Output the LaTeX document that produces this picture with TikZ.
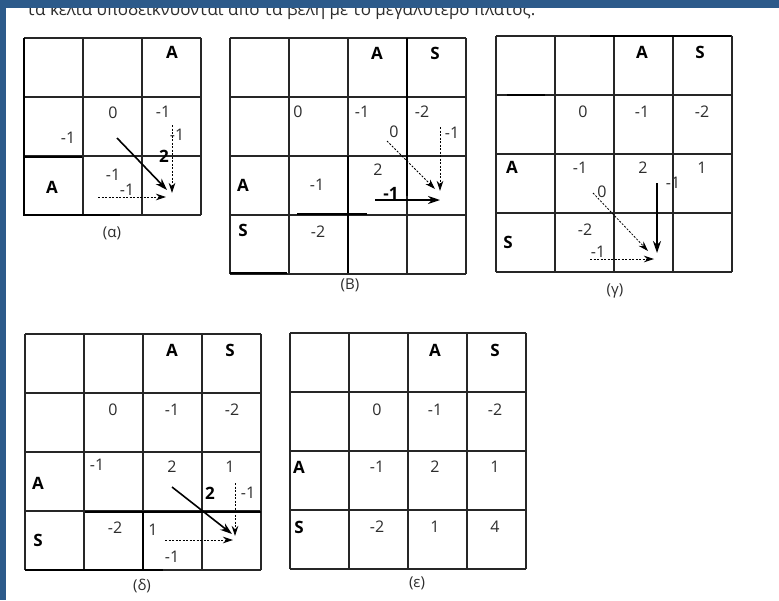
\documentclass[tikz,border=0pt]{standalone}
\usepackage{fontspec}
\setmainfont{Open Sans}
\usetikzlibrary{arrows.meta}
\definecolor{band}{RGB}{44,90,138}
\definecolor{ink}{RGB}{45,45,45}
\tikzset{
  num/.style={font=\fontsize{16}{16}\selectfont, text=ink, inner sep=0pt},
  hdr/.style={font=\fontsize{17}{17}\selectfont\bfseries, inner sep=0pt},
  bnum/.style={font=\fontsize{17}{17}\selectfont\bfseries, inner sep=0pt},
  captxt/.style={font=\fontsize{15}{15}\selectfont, text=ink, inner sep=0pt},
  gridline/.style={line width=1.1pt, black!85},
  heavy/.style={line width=1.8pt, black},
  darr/.style={line width=0.8pt, dash pattern=on 2pt off 1.5pt, -{Stealth[length=10pt,width=6.5pt]}},
  sarr/.style={line width=1.6pt, -{Stealth[length=12pt,width=8pt]}},
}
\newcommand\mygrid[4]{%
  \foreach \i in {0,...,#3}{\draw[gridline] ({#1+59*\i},#2) -- ({#1+59*\i},{#2+59*#4});}%
  \foreach \j in {0,...,#4}{\draw[gridline] (#1,{#2+59*\j}) -- ({#1+59*#3},{#2+59*\j});}%
}
\begin{document}
\begin{tikzpicture}[x=1pt,y=-1pt]
\useasboundingbox (0,0) rectangle (779,600);
\fill[white] (0,0) rectangle (779,600);
% top text (cut off by the band)
\node[anchor=base west, font=\fontsize{17}{17}\selectfont, text=ink, inner sep=0pt] (toptext) at (27,15.5) {τα κελιά υποδεικνύονται από τα βέλη με το μεγαλύτερο πλάτος.};
\fill[band] (0,0) rectangle (779,7.5);
\fill[band] (0,0) rectangle (6,600);

% ---------------- (a)
\mygrid{24}{38}{3}{3}
\draw[heavy] (24,38) -- (24,215) -- (120,215);
\draw[heavy] (24,157) -- (82,157);
\node[hdr] (aA1) at (172,52) {A};
\node[num] (aL1) at (68,138) {-1};
\node[num] (a11) at (113,113) {0};
\node[num] (a12) at (163,112) {-1};
\node[num] (aLv) at (177,135) {-1};
\node[bnum] (a2b) at (164,156) {2};
\node[hdr] (aA2) at (52,187) {A};
\node[num] (a21) at (113,175) {-1};
\node[num] (aLh) at (127,190) {-1};
\coordinate (aD0) at (117,138); \coordinate (aD1) at (167,190);
\coordinate (aV0) at (172,125); \coordinate (aV1) at (172,193);
\coordinate (aH0) at (98,197);  \coordinate (aH1) at (166,197);
\draw[sarr] (aD0) -- (aD1);
\draw[darr] (aV0) -- (aV1);
\draw[darr] (aH0) -- (aH1);
\node[captxt] (capa) at (112,233) {(α)};

% ---------------- (B)
\mygrid{230}{38}{4}{4}
\draw[heavy] (407,38) -- (407,196);
\draw[heavy] (348,156) -- (348,273);
\draw[heavy] (297,214) -- (367,214);
\draw[heavy] (230,273) -- (287,273);
\node[hdr] (bA1) at (377,53) {A};
\node[hdr] (bS1) at (435,53) {S};
\node[num] (b11) at (298,112) {0};
\node[num] (b12) at (362,112) {-1};
\node[num] (b13) at (422,112) {-2};
\node[hdr] (bA2) at (243,185) {A};
\node[num] (b21) at (317,185) {-1};
\node[num] (b22) at (378,170) {2};
\node[hdr] (bS3) at (243,230) {S};
\node[num] (b31) at (318,232) {-2};
\node[num] (bLd) at (394,132) {0};
\node[num] (bLv) at (452,133) {-1};
\node[bnum] (bLh) at (391,193) {-1};
\coordinate (bD0) at (387,141); \coordinate (bD1) at (435,189);
\coordinate (bV0) at (440,127); \coordinate (bV1) at (440,191);
\coordinate (bH0) at (375,200); \coordinate (bH1) at (440,200);
\draw[darr] (bD0) -- (bD1);
\draw[darr] (bV0) -- (bV1);
\draw[sarr] (bH0) -- (bH1);
\node[captxt] (capb) at (350,285) {(Β)};

% ---------------- (gamma)
\mygrid{496}{36}{4}{4}
\draw[heavy] (590,36) -- (731,36);
\draw[heavy] (507,95) -- (545,95);
\node[hdr] (gA1) at (642,52) {A};
\node[hdr] (gS1) at (700,52) {S};
\node[num] (g11) at (583,112) {0};
\node[num] (g12) at (642,112) {-1};
\node[num] (g13) at (702,112) {-2};
\node[hdr] (gA2) at (512,167) {A};
\node[num] (g21) at (580,168) {-1};
\node[num] (g22) at (643,168) {2};
\node[num] (g23) at (702,168) {1};
\node[hdr] (gS3) at (508,242) {S};
\node[num] (g31) at (585,230) {-2};
\node[num] (gLd) at (602,192) {0};
\node[num] (gLv) at (673,183) {-1};
\node[num] (gLh) at (598,252) {-1};
\coordinate (gD0) at (593,193); \coordinate (gD1) at (648,251);
\coordinate (gV0) at (657,183); \coordinate (gV1) at (657,253);
\coordinate (gH0) at (590,259); \coordinate (gH1) at (654,259);
\draw[darr] (gD0) -- (gD1);
\draw[sarr] (gV0) -- (gV1);
\draw[darr] (gH0) -- (gH1);
\node[captxt] (capg) at (615,291) {(γ)};

% ---------------- (delta)
\mygrid{25}{334}{4}{4}
\draw[heavy] (85,512) -- (261,512);
\draw[heavy] (143,512) -- (143,570);
\draw[heavy] (25,570) -- (163,570);
\node[hdr] (dA1) at (172,350) {A};
\node[hdr] (dS1) at (230,350) {S};
\node[num] (d11) at (113,410) {0};
\node[num] (d12) at (172,410) {-1};
\node[num] (d13) at (232,410) {-2};
\node[num] (d20) at (97,465) {-1};
\node[hdr] (dA2) at (38,483) {A};
\node[num] (d22) at (172,467) {2};
\node[num] (d23) at (230,467) {1};
\node[bnum] (d2b) at (210,493) {2};
\node[num] (dLv) at (248,493) {-1};
\node[hdr] (dS3) at (38,540) {S};
\node[num] (d31) at (115,528) {-2};
\node[num] (d32) at (153,530) {1};
\node[num] (dLh) at (172,557) {-1};
\coordinate (dD0) at (172,487); \coordinate (dD1) at (232,534);
\coordinate (dV0) at (235,483); \coordinate (dV1) at (235,536);
\coordinate (dH0) at (165,540); \coordinate (dH1) at (233,540);
\draw[sarr] (dD0) -- (dD1);
\draw[darr] (dV0) -- (dV1);
\draw[darr] (dH0) -- (dH1);
\node[captxt] (capd) at (142,586) {(δ)};

% ---------------- (epsilon)
\mygrid{290}{333}{4}{4}
\node[hdr] (eA1) at (435,350) {A};
\node[hdr] (eS1) at (495,350) {S};
\node[num] (e11) at (377,410) {0};
\node[num] (e12) at (435,410) {-1};
\node[num] (e13) at (495,410) {-2};
\node[hdr] (eA2) at (299,467) {A};
\node[num] (e21) at (377,467) {-1};
\node[num] (e22) at (435,467) {2};
\node[num] (e23) at (495,467) {1};
\node[hdr] (eS3) at (299,527) {S};
\node[num] (e31) at (377,527) {-2};
\node[num] (e32) at (435,527) {1};
\node[num] (e33) at (495,527) {4};
\node[captxt] (cape) at (417,583) {(ε)};
\end{tikzpicture}
\end{document}
